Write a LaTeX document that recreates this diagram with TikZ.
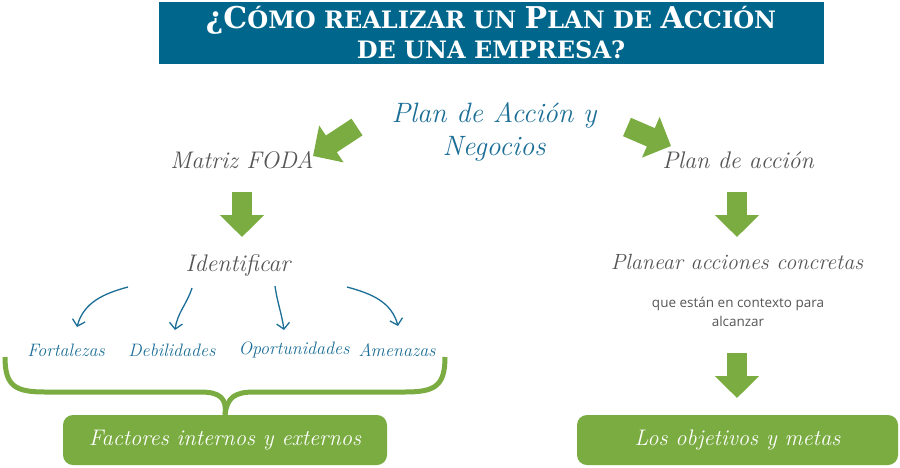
\documentclass[tikz,border=0pt]{standalone}
\usepackage{fontspec}
\newfontfamily\titlef{DejaVu Serif}
\newfontfamily\sansf{Open Sans}
\usetikzlibrary{arrows.meta}
\definecolor{titleblue}{RGB}{0,102,140}
\definecolor{leaf}{RGB}{122,172,66}
\definecolor{inkblue}{RGB}{27,110,150}
\definecolor{inkgray}{RGB}{85,85,85}
\newcommand\scr{\rmfamily\itshape}
\newcommand\bigc[1]{{\fontsize{30}{30}\selectfont #1}}
\begin{document}
\begin{tikzpicture}[x=1pt,y=-1pt,
  titlebox/.style={fill=titleblue,text=white,minimum width=665pt,minimum height=62pt,inner sep=0pt,align=center,font=\titlef\bfseries\fontsize{24}{30}\selectfont},
  central/.style={text=inkblue,align=center,font=\scr\fontsize{28}{33}\selectfont},
  grayhead/.style={text=inkgray,font=\scr\fontsize{24}{28}\selectfont},
  swot/.style={text=inkblue,font=\scr\fontsize{18}{22}\selectfont},
  greenbox/.style={fill=leaf,text=white,rounded corners=10pt,minimum height=50pt,inner sep=0pt,font=\scr\fontsize{22.5}{26}\selectfont},
  bigarrow/.style={draw=leaf,line width=20pt,-{Triangle[length=22pt,width=43pt]}},
  thinarrow/.style={draw=inkblue,line width=1.3pt,-{Straight Barb[length=6pt,width=13pt]}},
  bracestyle/.style={draw=leaf,line width=5pt}
]
\useasboundingbox (0,0) rectangle (900,467);
% title
\node[titlebox] (title) at (491,33) {%
  \bigc{¿C}ÓMO REALIZAR UN \bigc{P}LAN DE \bigc{A}CCIÓN\\
  DE UNA EMPRESA?};
% center
\node[central] (pda) at (494,132) {Plan de Acción y\\Negocios};
\node[grayhead] (foda) at (242,160) {Matriz FODA};
\node[grayhead] (pacc) at (738,160) {Plan de acción};
\node[grayhead] (ident) at (238,265) {Identificar};
\node[grayhead,font=\scr\fontsize{22}{26}\selectfont] (plan) at (737,262) {Planear acciones concretas};
\node[text=inkgray,align=center,font=\sansf\fontsize{13.5}{19}\selectfont] (que) at (738,312) {que están en contexto para\\alcanzar};
\node[swot] (fort) at (66,350) {Fortalezas};
\node[swot] (deb) at (172,350) {Debilidades};
\node[swot] (opor) at (294,350) {Oportunidades};
\node[swot] (amen) at (397,350) {Amenazas};
\node[greenbox,minimum width=324pt] (fact) at (225,440) {Factores internos y externos};
\node[greenbox,minimum width=321pt] (obj) at (737.5,440) {Los objetivos y metas};
% coordinates for arrow ends
\coordinate (l1) at (357,127); \coordinate (l2) at (313,156);
\coordinate (r1) at (627,127); \coordinate (r2) at (671,146);
\coordinate (d1) at (242,192); \coordinate (d2) at (242,237);
\coordinate (e1) at (737,192); \coordinate (e2) at (737,237);
\coordinate (f1) at (737,353); \coordinate (f2) at (737,398);
\draw[bigarrow] (l1) -- (l2);
\draw[bigarrow] (r1) -- (r2);
\draw[bigarrow] (d1) -- (d2);
\draw[bigarrow] (e1) -- (e2);
\draw[bigarrow] (f1) -- (f2);
% thin arrows
\coordinate (t1) at (128,287); \coordinate (u1) at (77,327);
\coordinate (t2) at (192,288); \coordinate (u2) at (175,330);
\coordinate (t3) at (275,286); \coordinate (u3) at (284,330);
\coordinate (t4) at (347,287); \coordinate (u4) at (398,326);
\draw[thinarrow] (t1) to[out=-165,in=75] (u1);
\draw[thinarrow] (t2) to[out=-108,in=82] (u2);
\draw[thinarrow] (t3) to[out=-82,in=98] (u3);
\draw[thinarrow] (t4) to[out=-15,in=105] (u4);
% brace
\coordinate (bl) at (5,357); \coordinate (br) at (445,357);
\draw[bracestyle] (bl) .. controls (5,386) and (15,392) .. (45,392) -- (200,392)
  .. controls (220,392) and (227,398) .. (fact.north);
\draw[bracestyle] (br) .. controls (445,386) and (435,392) .. (405,392) -- (254,392)
  .. controls (234,392) and (227,398) .. (fact.north);
\end{tikzpicture}
\end{document}
